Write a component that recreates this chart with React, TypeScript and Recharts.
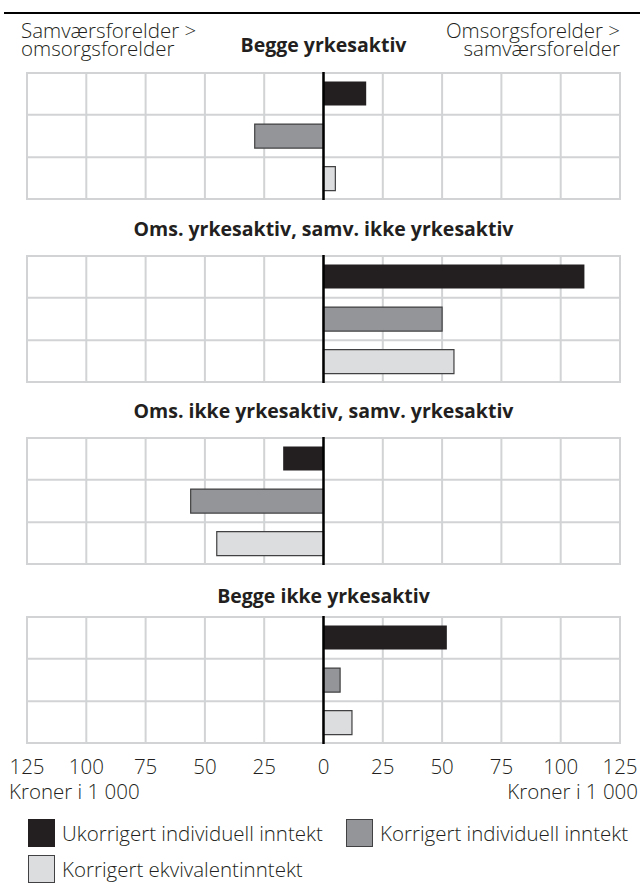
import React from "react";
import { Bar, BarChart, CartesianGrid, Cell, ReferenceLine, XAxis, YAxis } from "recharts";

const series = ["Ukorrigert individuell inntekt", "Korrigert individuell inntekt", "Korrigert ekvivalentinntekt"];
const fills = ["#231f20", "#939598", "#dcddde"];
const strokes = ["none", "#414042", "#414042"];

const panelTitles = [
  "Begge yrkesaktiv",
  "Oms. yrkesaktiv, samv. ikke yrkesaktiv",
  "Oms. ikke yrkesaktiv, samv. yrkesaktiv",
  "Begge ikke yrkesaktiv",
];
const ukorrigert = [18, 110, -17, 52];
const korrigert = [-29, 50, -56, 7];
const ekvivalent = [5, 55, -45, 12];

const xTicks = [-125, -100, -75, -50, -25, 0, 25, 50, 75, 100, 125];

const font = "'Open Sans', sans-serif";
const ink = "#231f20";
const FS = 20.5;
const TITLE_FS = 19.5;

const panelTops = [72, 255, 437, 616];
const titleTops = [32, 216, 398, 583];
const BOX_H = 128;
const AXIS_H = 36;

function Panel({ index }: { index: number }) {
  const values = [ukorrigert[index], korrigert[index], ekvivalent[index]];
  const data = series.map((name, i) => ({ name, value: values[i] }));
  const last = index === panelTitles.length - 1;
  return (
    <div style={{ position: "absolute", left: 0, top: panelTops[index] }}>
      <BarChart
        width={640}
        height={BOX_H + (last ? AXIS_H : 0)}
        data={data}
        layout="vertical"
        margin={{ top: 0, right: 20, bottom: 0, left: 27 }}
        barCategoryGap="22%"
      >
        <CartesianGrid
          stroke="#d1d3d4"
          strokeWidth={2}
          horizontalCoordinatesGenerator={({ offset }: any) => [
            offset.top + 1,
            offset.top + offset.height / 3,
            offset.top + (2 * offset.height) / 3,
            offset.top + offset.height - 1,
          ]}
        />
        <XAxis
          type="number"
          domain={[-125, 125]}
          ticks={xTicks}
          hide={!last}
          height={AXIS_H}
          axisLine={false}
          tickLine={false}
          tickMargin={9}
          tickFormatter={(v: number) => String(Math.abs(v))}
          tick={{ fill: ink, fontSize: FS, fontFamily: font, fontWeight: 300 }}
        />
        <YAxis type="category" dataKey="name" hide />
        <Bar dataKey="value" isAnimationActive={false}>
          {data.map((d, i) => (
            <Cell key={d.name} fill={fills[i]} stroke={strokes[i]} strokeWidth={1.2} />
          ))}
        </Bar>
        <ReferenceLine x={0} stroke="#000" strokeWidth={2.5} />
      </BarChart>
    </div>
  );
}

export default function App() {
  return (
    <div
      style={{
        position: "absolute",
        left: 0,
        top: 0,
        width: 640,
        height: 884,
        background: "#fff",
        fontFamily: font,
        fontWeight: 300,
        color: ink,
        overflow: "hidden",
      }}
    >
      <div style={{ position: "absolute", left: 4, right: 0, top: 12, height: 2, background: "#000" }} />
      <div style={{ position: "absolute", left: 21, top: 21, fontSize: FS, lineHeight: "18px" }}>
        Samværsforelder &gt;
        <br />
        omsorgsforelder
      </div>
      <div style={{ position: "absolute", right: 20, top: 21, fontSize: FS, lineHeight: "18px", textAlign: "right" }}>
        Omsorgsforelder &gt;
        <br />
        samværsforelder
      </div>
      {panelTitles.map((t, i) => (
        <div
          key={t}
          style={{
            position: "absolute",
            left: 27,
            width: 593,
            top: titleTops[i],
            textAlign: "center",
            fontWeight: 700,
            fontSize: TITLE_FS,
            lineHeight: "26px",
          }}
        >
          {t}
        </div>
      ))}
      {panelTitles.map((t, i) => (
        <Panel key={t} index={i} />
      ))}
      <div style={{ position: "absolute", left: 9, top: 780, fontSize: FS, lineHeight: "22px" }}>Kroner i 1 000</div>
      <div style={{ position: "absolute", right: 2, top: 780, fontSize: FS, lineHeight: "22px" }}>Kroner i 1 000</div>
      {series.map((s, i) => (
        <div
          key={s}
          style={{
            position: "absolute",
            left: i === 1 ? 346 : 28,
            top: i === 2 ? 855 : 819,
            display: "flex",
            alignItems: "center",
            fontSize: FS,
            lineHeight: "26px",
            whiteSpace: "nowrap",
          }}
        >
          <span
            style={{
              display: "inline-block",
              width: 25,
              height: 26,
              background: fills[i],
              border: `1px solid ${i === 0 ? fills[0] : "#414042"}`,
              marginRight: 7,
            }}
          />
          {s}
        </div>
      ))}
    </div>
  );
}
